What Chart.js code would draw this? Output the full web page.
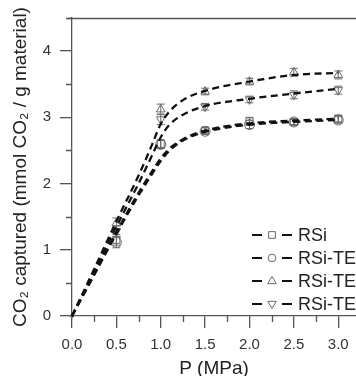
<!DOCTYPE html>
<html>
<head>
<meta charset="utf-8">
<script src="https://cdn.jsdelivr.net/npm/chart.js@4.4.1/dist/chart.umd.min.js"></script>
<style>
html,body{margin:0;padding:0;background:#fff;overflow:hidden;}
#wrap{width:362px;height:376px;}
</style>
</head>
<body>
<div id="wrap"><canvas id="c" width="362" height="376"></canvas></div>
<script>
const pressure = [0, 0.5, 1.0, 1.5, 2.0, 2.5, 3.0];
const rsi      = [0, 1.15, 2.60, 2.80, 2.94, 2.93, 2.98];
const rsiTE1   = [0, 1.11, 2.59, 2.79, 2.89, 2.93, 2.96];
const rsiTE2   = [0, 1.40, 3.12, 3.39, 3.54, 3.68, 3.64];
const rsiTE3   = [0, 1.28, 2.97, 3.16, 3.27, 3.34, 3.41];
const errRsi   = [0, 0.08, 0.06, 0.05, 0.06, 0.04, 0.05];
const errTE1   = [0, 0.08, 0.06, 0.05, 0.06, 0.05, 0.05];
const errTE2   = [0, 0.08, 0.08, 0.05, 0.05, 0.06, 0.06];
const errTE3   = [0, 0.08, 0.08, 0.05, 0.05, 0.06, 0.06];
// ---- dashed fitted curves ----
const curveP     = [0, 0.25, 0.5, 0.75, 0.9, 1.0, 1.1, 1.25, 1.5, 2.0, 2.5, 3.0];
const fitRsi     = [0, 0.63, 1.27, 1.86, 2.18, 2.38, 2.53, 2.67, 2.80, 2.91, 2.95, 2.98];
const fitRsiTE1  = [0, 0.62, 1.24, 1.82, 2.14, 2.34, 2.50, 2.65, 2.78, 2.89, 2.93, 2.96];
const fitRsiTE2  = [0, 0.71, 1.43, 2.12, 2.58, 2.90, 3.09, 3.26, 3.40, 3.54, 3.64, 3.67];
const fitRsiTE3  = [0, 0.67, 1.35, 2.00, 2.42, 2.70, 2.89, 3.04, 3.17, 3.28, 3.36, 3.43];
const seriesLabels = ['RSi', 'RSi-TE', 'RSi-TE', 'RSi-TE'];
const yTickValues = [0, 1, 2, 3, 4];
const xTickValues = [0, 0.5, 1.0, 1.5, 2.0, 2.5, 3.0];

const FONT = "'Liberation Sans', Arial, sans-serif";
const AXIS = '#555';
const MARK = '#6a6a6a';

const styles = [
  {pointStyle: 'rect', rotation: 0},
  {pointStyle: 'circle', rotation: 0},
  {pointStyle: 'triangle', rotation: 0},
  {pointStyle: 'triangle', rotation: 180}
];
const values = [rsi, rsiTE1, rsiTE2, rsiTE3];
const errors = [errRsi, errTE1, errTE2, errTE3];
const fits = [fitRsi, fitRsiTE1, fitRsiTE2, fitRsiTE3];

const curveSets = fits.map((vals, i) => ({
  label: seriesLabels[i] + ' fit',
  isCurve: true,
  data: curveP.map((p, k) => ({x: p, y: vals[k]})),
  showLine: true,
  borderColor: '#111',
  borderWidth: 2.3,
  borderDash: [7, 4.5],
  cubicInterpolationMode: 'monotone',
  pointRadius: 0,
  clip: false
}));

const pointSets = values.map((vals, i) => ({
  label: seriesLabels[i],
  data: pressure.map((p, k) => ({x: p, y: vals[k]})),
  errors: errors[i],
  showLine: false,
  pointStyle: styles[i].pointStyle,
  rotation: styles[i].rotation,
  pointRadius: ctx => ctx.dataIndex === 0 ? 1.5 : 5,
  pointBorderColor: MARK,
  pointBackgroundColor: 'rgba(0,0,0,0)',
  pointBorderWidth: 1,
  clip: false
}));

function drawMarker(ctx, style, rotation, x, y, r) {
  ctx.save();
  ctx.translate(x, y);
  ctx.rotate(rotation * Math.PI / 180);
  ctx.beginPath();
  if (style === 'rect') {
    ctx.rect(-r * 0.75, -r * 0.75, r * 1.5, r * 1.5);
  } else if (style === 'circle') {
    ctx.arc(0, 0, r * 0.85, 0, Math.PI * 2);
  } else {
    ctx.moveTo(0, -r);
    ctx.lineTo(r * 0.95, r * 0.6);
    ctx.lineTo(-r * 0.95, r * 0.6);
    ctx.closePath();
  }
  ctx.stroke();
  ctx.restore();
}

const extras = {
  id: 'extras',
  beforeDatasetsDraw(chart) {
    const {ctx, chartArea: a, scales: {x, y}} = chart;
    ctx.save();
    ctx.strokeStyle = AXIS;
    ctx.lineWidth = 1.3;
    ctx.beginPath();
    ctx.moveTo(a.left - 4, Math.round(a.top) + 0.5);
    ctx.lineTo(a.right, Math.round(a.top) + 0.5);
    ctx.stroke();
    ctx.beginPath();
    for (let v = 0.25; v <= x.max; v += 0.5) {
      const px = Math.round(x.getPixelForValue(v)) + 0.5;
      ctx.moveTo(px, a.bottom);
      ctx.lineTo(px, a.bottom + 6);
    }
    for (let v = 0.5; v <= y.max; v += 1) {
      const py = Math.round(y.getPixelForValue(v)) + 0.5;
      ctx.moveTo(a.left, py);
      ctx.lineTo(a.left - 6, py);
    }
    ctx.stroke();
    ctx.strokeStyle = MARK;
    ctx.lineWidth = 1;
    chart.data.datasets.forEach(ds => {
      if (!ds.errors) return;
      ds.data.forEach((pt, k) => {
        const e = ds.errors[k];
        if (!e) return;
        const px = x.getPixelForValue(pt.x);
        const y1 = y.getPixelForValue(pt.y - e);
        const y2 = y.getPixelForValue(pt.y + e);
        ctx.beginPath();
        ctx.moveTo(px, y1); ctx.lineTo(px, y2);
        ctx.moveTo(px - 4, y1); ctx.lineTo(px + 4, y1);
        ctx.moveTo(px - 4, y2); ctx.lineTo(px + 4, y2);
        ctx.stroke();
      });
    });
    ctx.restore();
  },
  afterDraw(chart) {
    const {ctx} = chart;
    ctx.save();
    const rows = [235, 258, 281, 304];
    chart.data.datasets.filter(ds => !ds.isCurve).forEach((ds, i) => {
      const yy = rows[i];
      ctx.strokeStyle = '#111';
      ctx.lineWidth = 2;
      ctx.setLineDash([]);
      ctx.beginPath();
      ctx.moveTo(252, yy); ctx.lineTo(262, yy);
      ctx.moveTo(282, yy); ctx.lineTo(292, yy);
      ctx.stroke();
      ctx.strokeStyle = MARK;
      ctx.lineWidth = 1;
      drawMarker(ctx, styles[i].pointStyle, styles[i].rotation, 272, yy, 4.5);
      ctx.fillStyle = '#222';
      ctx.font = '18px ' + FONT;
      ctx.textBaseline = 'middle';
      ctx.textAlign = 'left';
      ctx.fillText(ds.label, 298, yy + 1);
    });
    ctx.restore();
  }
};

new Chart(document.getElementById('c'), {
  type: 'scatter',
  data: {datasets: [...curveSets, ...pointSets]},
  plugins: [extras],
  options: {
    responsive: false,
    animation: false,
    devicePixelRatio: 1,
    layout: {padding: {top: 15, right: 2, left: 0, bottom: 0}},
    plugins: {legend: {display: false}, tooltip: {enabled: false}},
    scales: {
      x: {
        type: 'linear',
        min: 0, max: 3.2,
        afterFit: s => { s.height = 60; },
        afterBuildTicks: s => { s.ticks = xTickValues.map(v => ({value: v})); },
        border: {display: true, color: AXIS, width: 1.3},
        grid: {drawOnChartArea: false, drawTicks: true, tickLength: 12, color: AXIS, lineWidth: 1.3},
        ticks: {padding: 8, color: '#333', font: {family: FONT, size: 15}, maxRotation: 0,
                callback: v => v.toFixed(1)},
        title: {display: true, text: 'P (MPa)', color: '#222', font: {family: FONT, size: 19},
                padding: {top: 0, bottom: -4}}
      },
      y: {
        type: 'linear',
        min: 0, max: 4.5,
        afterFit: s => { s.width = 72; },
        afterBuildTicks: s => { s.ticks = yTickValues.map(v => ({value: v})); },
        border: {display: true, color: AXIS, width: 1.3},
        grid: {drawOnChartArea: false, drawTicks: true, tickLength: 12, color: AXIS, lineWidth: 1.3},
        ticks: {padding: 9, color: '#333', font: {family: FONT, size: 15},
                callback: v => String(v)},
        title: {display: true, text: 'CO₂ captured (mmol CO₂ / g material)', color: '#222',
                font: {family: FONT, size: 19}, padding: {top: 9, bottom: 0}}
      }
    }
  }
});
</script>
</body>
</html>
